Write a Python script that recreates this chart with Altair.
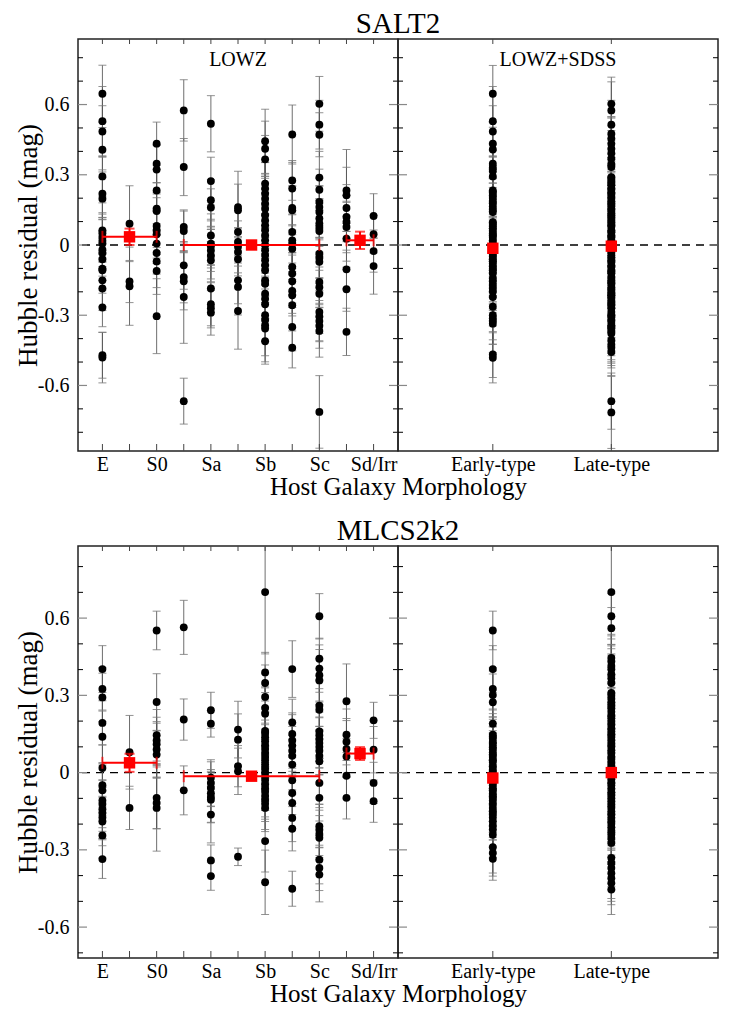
import altair as alt
import pandas as pd

FONT = "Liberation Serif"

# ---------------- labels / ticks ----------------
LOWZ_SLOTS = [0, 1, 2, 3, 4, 5, 6, 7, 8, 9, 10]
LOWZ_LABEL_POS = [0, 2, 4, 6, 8, 10]
LOWZ_LABELS = ["E", "S0", "Sa", "Sb", "Sc", "Sd/Irr"]
COMB_POS = [1, 2]
COMB_LABELS = ["Early-type", "Late-type"]
Y_LABELS = [-0.6, -0.3, 0, 0.3, 0.6]
Y_MINOR_TOP = [-0.8, -0.7, -0.5, -0.4, -0.2, -0.1, 0.1, 0.2, 0.4, 0.5, 0.7, 0.8]
Y_MINOR_BOT = [-0.7, -0.5, -0.4, -0.2, -0.1, 0.1, 0.2, 0.4, 0.5, 0.7, 0.8]
ROW_TITLES = ["SALT2", "MLCS2k2"]
PANEL_TAGS = ["LOWZ", "LOWZ+SDSS"]

# ---------------- SALT2, LOWZ (per morphology slot) ----------------
SALT2_LOWZ_RES = [
    [0.646, 0.529, 0.485, 0.407, 0.293, 0.219, 0.198, 0.062, 0.050, 0.034, 0.018, 0.006, -0.020, -0.035, -0.061, -0.101, -0.108, -0.151, -0.186, -0.267, -0.471, -0.481],
    [0.091, -0.156, -0.176],
    [0.433, 0.347, 0.322, 0.233, 0.155, 0.145, 0.081, 0.063, 0.046, 0.006, -0.034, -0.070, -0.111, -0.304],
    [0.575, 0.333, 0.077, 0.060, -0.087, -0.137, -0.155, -0.222, -0.667],
    [0.518, 0.273, 0.191, 0.160, 0.041, 0.006, -0.005, -0.023, -0.045, -0.065, -0.186, -0.253, -0.270, -0.289],
    [0.162, 0.148, 0.056, 0.013, -0.008, -0.030, -0.061, -0.151, -0.179, -0.282],
    [0.443, 0.411, 0.366, 0.262, 0.241, 0.219, 0.198, 0.177, 0.155, 0.127, 0.105, 0.084, 0.063, 0.041, 0.020, -0.001, -0.022, -0.043, -0.065, -0.086, -0.108, -0.151, -0.165, -0.208, -0.230, -0.253, -0.300, -0.320, -0.343, -0.357, -0.411],
    [0.472, 0.276, 0.241, 0.158, 0.148, 0.056, 0.020, 0.005, -0.016, -0.094, -0.122, -0.155, -0.196, -0.215, -0.257, -0.350, -0.439],
    [0.603, 0.514, 0.471, 0.288, 0.236, 0.184, 0.162, 0.141, 0.113, 0.092, 0.077, 0.060, -0.037, -0.055, -0.072, -0.158, -0.180, -0.208, -0.286, -0.305, -0.325, -0.345, -0.367, -0.713],
    [0.233, 0.212, 0.158, 0.120, 0.098, 0.077, 0.027, -0.104, -0.189, -0.371],
    [0.124, 0.046, -0.026, -0.090],
]
SALT2_LOWZ_ERR = [
    [0.122, 0.148, 0.110, 0.095, 0.085, 0.102, 0.090, 0.118, 0.082, 0.104, 0.092, 0.112, 0.080, 0.098, 0.090, 0.105, 0.084, 0.112, 0.094, 0.082, 0.098, 0.108],
    [0.162, 0.090, 0.167],
    [0.092, 0.082, 0.104, 0.090, 0.112, 0.080, 0.121, 0.094, 0.102, 0.085, 0.090, 0.112, 0.100, 0.160],
    [0.131, 0.122, 0.068, 0.090, 0.102, 0.110, 0.122, 0.198, 0.098],
    [0.120, 0.102, 0.088, 0.080, 0.092, 0.104, 0.082, 0.090, 0.112, 0.080, 0.102, 0.092, 0.084, 0.096],
    [0.153, 0.112, 0.100, 0.090, 0.082, 0.102, 0.092, 0.100, 0.120, 0.163],
    [0.137, 0.118, 0.102, 0.090, 0.112, 0.084, 0.096, 0.108, 0.082, 0.094, 0.120, 0.086, 0.100, 0.092, 0.110, 0.084, 0.098, 0.090, 0.104, 0.086, 0.112, 0.094, 0.082, 0.106, 0.090, 0.098, 0.112, 0.088, 0.130, 0.142, 0.098],
    [0.126, 0.085, 0.112, 0.094, 0.104, 0.090, 0.112, 0.082, 0.098, 0.104, 0.090, 0.112, 0.096, 0.088, 0.110, 0.102, 0.086],
    [0.117, 0.104, 0.094, 0.112, 0.088, 0.100, 0.092, 0.110, 0.084, 0.098, 0.120, 0.090, 0.102, 0.088, 0.094, 0.110, 0.086, 0.100, 0.092, 0.104, 0.088, 0.096, 0.112, 0.155],
    [0.175, 0.120, 0.100, 0.092, 0.084, 0.110, 0.096, 0.082, 0.094, 0.101],
    [0.095, 0.080, 0.090, 0.120],
]
LOWZ_MEAN_POS = [1, 5.5, 9.5]
LOWZ_GROUP_FROM = [0, 3, 9]
LOWZ_GROUP_TO = [2, 8, 10]
SALT2_LOWZ_MEAN = [0.035, 0.0, 0.02]
SALT2_LOWZ_MEAN_ERR = [0.035, 0.012, 0.037]

# ---------------- SALT2, LOWZ+SDSS ----------------
SALT2_EARLY = [0.646, 0.529, 0.485, 0.433, 0.408, 0.347, 0.331, 0.316, 0.293, 0.233,
               0.224, 0.212, 0.201, 0.189, 0.178, 0.166, 0.152, 0.141, 0.097, 0.091,
               0.081, 0.072, 0.061, 0.049, 0.041, 0.031, 0.019, 0.006, -0.008, -0.019,
               -0.031, -0.042, -0.049, -0.061, -0.071, -0.079, -0.092, -0.101, -0.109, -0.122,
               -0.143, -0.156, -0.171, -0.186, -0.199, -0.222, -0.264, -0.300, -0.313, -0.324,
               -0.336, -0.468, -0.482]
SALT2_EARLY_ERR = [0.121, 0.148, 0.110, 0.092, 0.095, 0.082, 0.104, 0.088, 0.085, 0.090,
                   0.102, 0.112, 0.086, 0.094, 0.108, 0.080, 0.112, 0.090, 0.121, 0.094,
                   0.102, 0.085, 0.118, 0.082, 0.104, 0.092, 0.088, 0.112, 0.080, 0.098,
                   0.090, 0.110, 0.086, 0.105, 0.084, 0.096, 0.112, 0.100, 0.088, 0.094,
                   0.110, 0.086, 0.102, 0.094, 0.090, 0.104, 0.082, 0.160, 0.092, 0.100,
                   0.088, 0.098, 0.107]
SALT2_LATE = [0.603, 0.575, 0.514, 0.475, 0.455, 0.432, 0.411, 0.392, 0.369, 0.345,
              0.333, 0.290, 0.284, 0.271, 0.262, 0.255, 0.241, 0.236, 0.224, 0.219,
              0.205, 0.198, 0.186, 0.177, 0.168, 0.155, 0.149, 0.136, 0.127, 0.118,
              0.105, 0.097, 0.084, 0.078, 0.063, 0.055, 0.041, 0.033, 0.020, 0.012,
              -0.001, -0.009, -0.022, -0.030, -0.043, -0.052, -0.065, -0.072, -0.086, -0.094,
              -0.108, -0.115, -0.122, -0.137, -0.151, -0.158, -0.165, -0.180, -0.189, -0.196,
              -0.208, -0.215, -0.222, -0.230, -0.241, -0.253, -0.257, -0.270, -0.286, -0.300,
              -0.305, -0.320, -0.325, -0.343, -0.350, -0.357, -0.367, -0.378, -0.407, -0.425,
              -0.439, -0.457, -0.667, -0.715]
SALT2_LATE_ERR = [0.114, 0.122, 0.104, 0.126, 0.092, 0.110, 0.137, 0.118, 0.102, 0.090,
                  0.112, 0.085, 0.104, 0.094, 0.112, 0.082, 0.098, 0.120, 0.084, 0.096,
                  0.108, 0.090, 0.094, 0.117, 0.086, 0.100, 0.092, 0.110, 0.084, 0.098,
                  0.120, 0.090, 0.102, 0.088, 0.094, 0.110, 0.086, 0.100, 0.092, 0.104,
                  0.088, 0.096, 0.112, 0.082, 0.106, 0.090, 0.098, 0.112, 0.088, 0.130,
                  0.094, 0.102, 0.086, 0.110, 0.096, 0.084, 0.104, 0.090, 0.112, 0.100,
                  0.088, 0.094, 0.110, 0.086, 0.102, 0.094, 0.090, 0.104, 0.082, 0.098,
                  0.090, 0.112, 0.088, 0.130, 0.102, 0.142, 0.096, 0.112, 0.098, 0.090,
                  0.086, 0.101, 0.120, 0.154]
SALT2_COMB_MEAN = [-0.014, -0.005]
SALT2_COMB_MEAN_ERR = [0.015, 0.010]

# ---------------- MLCS2k2, LOWZ ----------------
MLCS_LOWZ_RES = [
    [0.402, 0.325, 0.292, 0.193, 0.139, 0.018, -0.049, -0.069, -0.108, -0.122, -0.142, -0.157, -0.174, -0.190, -0.244, -0.336],
    [0.079, -0.137],
    [0.552, 0.274, 0.145, 0.125, 0.110, 0.090, 0.070, -0.098, -0.118, -0.137],
    [0.564, 0.206, -0.069],
    [0.242, 0.190, -0.020, -0.040, -0.060, -0.080, -0.095, -0.105, -0.163, -0.341, -0.402],
    [0.167, 0.128, 0.025, 0.005, -0.327],
    [0.701, 0.389, 0.348, 0.294, 0.251, 0.229, 0.162, 0.151, 0.137, 0.122, 0.106, 0.092, 0.076, 0.061, 0.046, 0.031, 0.016, 0.001, -0.014, -0.029, -0.046, -0.061, -0.074, -0.091, -0.106, -0.121, -0.137, -0.266, -0.426],
    [0.402, 0.195, 0.150, 0.125, 0.105, 0.085, 0.065, 0.031, -0.030, -0.079, -0.118, -0.176, -0.218, -0.451],
    [0.607, 0.442, 0.404, 0.378, 0.358, 0.260, 0.244, 0.160, 0.145, 0.130, 0.115, 0.100, 0.085, 0.065, 0.044, -0.040, -0.098, -0.208, -0.222, -0.238, -0.253, -0.338, -0.370, -0.396],
    [0.277, 0.147, 0.120, 0.092, 0.063, -0.012, -0.098],
    [0.203, 0.089, -0.040, -0.111],
]
MLCS_LOWZ_ERR = [
    [0.091, 0.082, 0.094, 0.086, 0.100, 0.090, 0.084, 0.098, 0.080, 0.092, 0.086, 0.100, 0.082, 0.094, 0.088, 0.075],
    [0.143, 0.084],
    [0.075, 0.110, 0.100, 0.090, 0.082, 0.108, 0.092, 0.120, 0.100, 0.168],
    [0.105, 0.080, 0.095],
    [0.070, 0.052, 0.062, 0.090, 0.072, 0.080, 0.100, 0.088, 0.110, 0.060, 0.055],
    [0.110, 0.100, 0.080, 0.090, 0.034],
    [0.240, 0.078, 0.070, 0.090, 0.082, 0.100, 0.092, 0.084, 0.098, 0.110, 0.086, 0.094, 0.080, 0.100, 0.088, 0.096, 0.084, 0.102, 0.090, 0.082, 0.094, 0.086, 0.098, 0.090, 0.084, 0.100, 0.092, 0.120, 0.125],
    [0.110, 0.090, 0.082, 0.100, 0.088, 0.094, 0.080, 0.098, 0.090, 0.084, 0.100, 0.092, 0.086, 0.068],
    [0.088, 0.080, 0.092, 0.100, 0.084, 0.096, 0.082, 0.104, 0.090, 0.086, 0.098, 0.080, 0.094, 0.102, 0.088, 0.096, 0.090, 0.084, 0.100, 0.092, 0.086, 0.094, 0.088, 0.106],
    [0.145, 0.100, 0.090, 0.110, 0.080, 0.090, 0.082],
    [0.070, 0.090, 0.080, 0.082],
]
MLCS_LOWZ_MEAN = [0.038, -0.014, 0.074]
MLCS_LOWZ_MEAN_ERR = [0.035, 0.012, 0.025]

# ---------------- MLCS2k2, LOWZ+SDSS ----------------
MLCS_EARLY = [0.552, 0.402, 0.325, 0.301, 0.273, 0.190, 0.147, 0.139, 0.131, 0.119,
              0.111, 0.099, 0.091, 0.079, 0.070, 0.061, 0.049, 0.041, 0.025, 0.012,
              0.001, -0.012, -0.025, -0.039, -0.049, -0.061, -0.069, -0.081, -0.091, -0.099,
              -0.108, -0.122, -0.137, -0.150, -0.161, -0.174, -0.190, -0.205, -0.221, -0.241,
              -0.290, -0.312, -0.335]
MLCS_EARLY_ERR = [0.075, 0.091, 0.082, 0.094, 0.110, 0.086, 0.100, 0.090, 0.084, 0.098,
                  0.080, 0.092, 0.086, 0.100, 0.082, 0.094, 0.088, 0.102, 0.090, 0.084,
                  0.096, 0.080, 0.094, 0.086, 0.100, 0.088, 0.092, 0.084, 0.098, 0.090,
                  0.102, 0.086, 0.094, 0.082, 0.100, 0.088, 0.096, 0.084, 0.092, 0.088,
                  0.100, 0.090, 0.083]
MLCS_LATE = [0.701, 0.607, 0.561, 0.445, 0.431, 0.414, 0.401, 0.382, 0.366, 0.348,
             0.309, 0.298, 0.286, 0.271, 0.260, 0.249, 0.236, 0.222, 0.211, 0.198,
             0.186, 0.172, 0.161, 0.149, 0.138, 0.126, 0.112, 0.101, 0.088, 0.076,
             0.062, 0.051, 0.038, 0.025, 0.013, 0.001, -0.012, -0.026, -0.038, -0.049,
             -0.062, -0.076, -0.088, -0.099, -0.112, -0.126, -0.137, -0.151, -0.162, -0.176,
             -0.188, -0.199, -0.212, -0.226, -0.240, -0.254, -0.273, -0.331, -0.351, -0.370,
             -0.391, -0.410, -0.429, -0.454]
MLCS_LATE_ERR = [0.240, 0.088, 0.080, 0.092, 0.100, 0.084, 0.096, 0.110, 0.090, 0.086,
                 0.098, 0.080, 0.094, 0.102, 0.088, 0.096, 0.090, 0.084, 0.100, 0.092,
                 0.086, 0.094, 0.088, 0.106, 0.082, 0.098, 0.090, 0.084, 0.100, 0.092,
                 0.086, 0.094, 0.080, 0.102, 0.090, 0.084, 0.098, 0.088, 0.096, 0.082,
                 0.100, 0.090, 0.086, 0.094, 0.120, 0.088, 0.096, 0.084, 0.100, 0.092,
                 0.086, 0.098, 0.090, 0.104, 0.088, 0.094, 0.082, 0.100, 0.092, 0.086,
                 0.098, 0.090, 0.084, 0.097]
MLCS_COMB_MEAN = [-0.021, 0.000]
MLCS_COMB_MEAN_ERR = [0.015, 0.010]

# ---------------- helpers ----------------
PW, PH = 320, 412


def points_df(positions, res, err):
    rows = []
    for p, vals, errs in zip(positions, res, err):
        assert len(vals) == len(errs), (p, len(vals), len(errs))
        for v, e in zip(vals, errs):
            rows.append({"pos": p, "val": v, "lo": v - e, "hi": v + e})
    return pd.DataFrame(rows)


def means_df(pos, vals, errs, frm=None, to=None):
    rows = []
    for i, (p, v, e) in enumerate(zip(pos, vals, errs)):
        rows.append({"pos": p, "m": v, "mlo": v - e, "mhi": v + e,
                     "xa": frm[i] if frm else p, "xb": to[i] if to else p})
    return pd.DataFrame(rows)


def label_expr(positions, labels):
    arr = "{" + ",".join(f"'{p}':'{l}'" for p, l in zip(positions, labels)) + "}"
    return f"{arr}['' + datum.value]"


def panel(pts, means, xdom, label_pos, labels, tick_pos, ydom, minor, left, tag,
          hbar, row_title):
    xs = alt.Scale(domain=xdom, nice=False, zero=False)
    ys = alt.Scale(domain=ydom, nice=False, zero=False)
    lab = label_expr(label_pos, labels)
    if left:
        xax = alt.Axis(values=label_pos, labelExpr=lab, ticks=False, domain=False, grid=False,
                       labelPadding=3, labelOverlap=False, labelFlush=False,
                       title="Host Galaxy Morphology", titleX=PW, titleY=43,
                       titleBaseline="alphabetic", titleAlign="center", titleFontSize=25)
        yax = alt.Axis(values=Y_LABELS, labelExpr="'' + datum.value", ticks=False, domain=False,
                       grid=False, labelPadding=9, labelOverlap=False, labelFlush=False,
                       title="Hubble residual (mag)", titleX=-36, titleFontSize=27)
    else:
        xax = alt.Axis(values=label_pos, labelExpr=lab, ticks=False, domain=False, grid=False,
                       labelPadding=3, labelOverlap=False, labelFlush=False, title=None)
        yax = None

    def X(f):
        return alt.X(f, type="quantitative", scale=xs, axis=xax)

    def Y(f):
        return alt.Y(f, type="quantitative", scale=ys, axis=yax)

    zero = alt.Chart(pd.DataFrame({"z": [0]})).mark_rule(
        color="black", strokeWidth=1.3, strokeDash=[8, 6]).encode(y=Y("z"))

    base = alt.Chart(pts)
    bars = base.mark_rule(color="#555555", strokeWidth=1, opacity=0.85, clip=True).encode(
        x=X("pos"), y=Y("lo"), y2="hi")
    cap_lo = base.mark_tick(orient="horizontal", size=8, thickness=1, color="#777777",
                            opacity=0.8, clip=True).encode(x=X("pos"), y=Y("lo"))
    cap_hi = base.mark_tick(orient="horizontal", size=8, thickness=1, color="#777777",
                            opacity=0.8, clip=True).encode(x=X("pos"), y=Y("hi"))
    dots = base.mark_circle(size=62, color="black", opacity=1, clip=True).encode(
        x=X("pos"), y=Y("val"))

    mb = alt.Chart(means)
    layers = [zero, bars, cap_lo, cap_hi, dots]
    if hbar:
        layers += [
            mb.mark_rule(color="#ff0000", strokeWidth=2).encode(x=X("xa"), x2="xb", y=Y("m")),
            mb.mark_tick(orient="vertical", size=12, thickness=2, color="#ff0000").encode(
                x=X("xa"), y=Y("m")),
            mb.mark_tick(orient="vertical", size=12, thickness=2, color="#ff0000").encode(
                x=X("xb"), y=Y("m")),
        ]
    layers += [
        mb.mark_rule(color="#ff0000", strokeWidth=2).encode(x=X("pos"), y=Y("mlo"), y2="mhi"),
        mb.mark_tick(orient="horizontal", size=10, thickness=2, color="#ff0000").encode(
            x=X("pos"), y=Y("mlo")),
        mb.mark_tick(orient="horizontal", size=10, thickness=2, color="#ff0000").encode(
            x=X("pos"), y=Y("mhi")),
        mb.mark_square(size=130, color="#ff0000", opacity=1).encode(x=X("pos"), y=Y("m")),
    ]

    # inward axis ticks drawn from the tick-value lists
    minor_df = pd.DataFrame({"t": minor})
    major_df = pd.DataFrame({"t": Y_LABELS})
    xt_df = pd.DataFrame({"t": tick_pos})
    layers += [
        alt.Chart(minor_df).mark_rule(color="black", strokeWidth=1).encode(
            y=Y("t"), x=alt.value(0), x2=alt.value(5)),
        alt.Chart(minor_df).mark_rule(color="black", strokeWidth=1).encode(
            y=Y("t"), x=alt.value(PW - 5), x2=alt.value(PW)),
        alt.Chart(major_df).mark_rule(color="#888888", strokeWidth=1.2).encode(
            y=Y("t"), x=alt.value(0), x2=alt.value(9)),
        alt.Chart(major_df).mark_rule(color="#888888", strokeWidth=1.2).encode(
            y=Y("t"), x=alt.value(PW - 9), x2=alt.value(PW)),
        alt.Chart(xt_df).mark_rule(color="#444444", strokeWidth=1).encode(
            x=X("t"), y=alt.value(PH), y2=alt.value(PH - 7)),
        alt.Chart(xt_df).mark_rule(color="#444444", strokeWidth=1).encode(
            x=X("t"), y=alt.value(0), y2=alt.value(5)),
    ]
    if tag:
        layers.append(alt.Chart(pd.DataFrame({"s": [tag]})).mark_text(
            font=FONT, fontSize=20, color="black", baseline="middle", align="center").encode(
            text="s:N", x=alt.value(PW / 2), y=alt.value(21)))
    if row_title:
        layers.append(alt.Chart(pd.DataFrame({"s": [row_title]})).mark_text(
            font=FONT, fontSize=29, color="black", baseline="alphabetic", align="center").encode(
            text="s:N", x=alt.value(PW), y=alt.value(-6)))
    return alt.layer(*layers).properties(width=PW, height=PH)


def row(title, lowz_res, lowz_err, lowz_mean, lowz_mean_err,
        early, early_err, late, late_err, comb_mean, comb_mean_err, ydom, minor, tags):
    lp = points_df(LOWZ_SLOTS, lowz_res, lowz_err)
    lm = means_df(LOWZ_MEAN_POS, lowz_mean, lowz_mean_err, LOWZ_GROUP_FROM, LOWZ_GROUP_TO)
    cp = points_df(COMB_POS, [early, late], [early_err, late_err])
    cm = means_df(COMB_POS, comb_mean, comb_mean_err)
    left = panel(lp, lm, [-0.9, 10.9], LOWZ_LABEL_POS, LOWZ_LABELS, LOWZ_SLOTS,
                 ydom, minor, True, tags[0] if tags else None, True, title)
    right = panel(cp, cm, [0.2, 2.9], COMB_POS, COMB_LABELS, COMB_POS,
                  ydom, minor, False, tags[1] if tags else None, False, None)
    return alt.hconcat(left, right, spacing=0, bounds="flush")


top = row(ROW_TITLES[0], SALT2_LOWZ_RES, SALT2_LOWZ_ERR, SALT2_LOWZ_MEAN, SALT2_LOWZ_MEAN_ERR,
          SALT2_EARLY, SALT2_EARLY_ERR, SALT2_LATE, SALT2_LATE_ERR,
          SALT2_COMB_MEAN, SALT2_COMB_MEAN_ERR, [-0.88, 0.88], Y_MINOR_TOP, PANEL_TAGS)
bottom = row(ROW_TITLES[1], MLCS_LOWZ_RES, MLCS_LOWZ_ERR, MLCS_LOWZ_MEAN, MLCS_LOWZ_MEAN_ERR,
             MLCS_EARLY, MLCS_EARLY_ERR, MLCS_LATE, MLCS_LATE_ERR,
             MLCS_COMB_MEAN, MLCS_COMB_MEAN_ERR, [-0.72, 0.88], Y_MINOR_BOT, None)

chart = alt.vconcat(top, bottom, spacing=16).configure_view(
    stroke="#222222", strokeWidth=1.5
).configure_axis(
    labelFont=FONT, labelFontSize=20, labelColor="black",
    titleFont=FONT, titleFontWeight="normal", titleColor="black"
).properties(background="white", padding={"left": 5, "top": 1, "right": 5, "bottom": 5})

chart.save("out.html", embed_options={"renderer": "svg", "actions": False})
